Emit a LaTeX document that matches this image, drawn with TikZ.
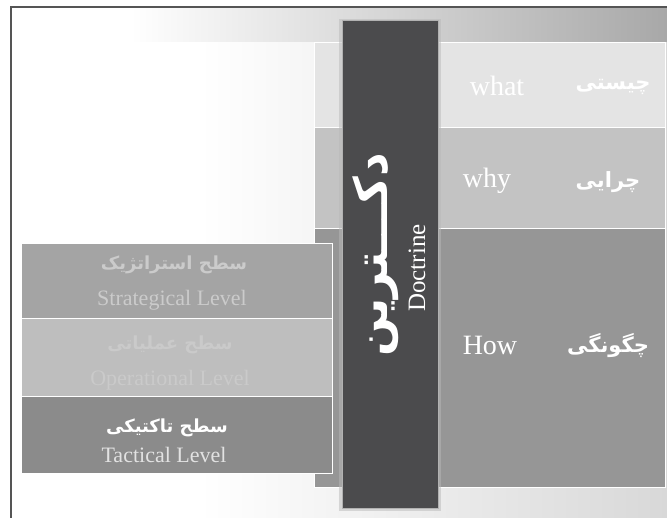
\documentclass[tikz,border=0pt]{standalone}
\usepackage{fontspec}
\setmainfont{Liberation Serif}
\newfontfamily\fa[Script=Arabic]{DejaVu Sans}
\TeXXeTstate=1
\definecolor{rowA}{HTML}{E4E4E4}
\definecolor{rowB}{HTML}{C3C3C3}
\definecolor{rowC}{HTML}{969696}
\definecolor{lvStrat}{HTML}{A4A4A4}
\definecolor{lvOper}{HTML}{BEBEBE}
\definecolor{lvTact}{HTML}{8B8B8B}
\definecolor{docCol}{HTML}{4B4B4D}
\definecolor{frameCol}{HTML}{555555}
\definecolor{bandRight}{HTML}{A8A8A8}
\definecolor{bandMid}{HTML}{C6C6C6}
\definecolor{lowRight}{HTML}{D8D8D8}
\definecolor{txtStrat}{HTML}{CBCBCB}
\definecolor{txtOper}{HTML}{CACACA}
\definecolor{txtTact}{HTML}{E2E2E2}
\begin{document}
\begin{tikzpicture}[x=1pt,y=-1pt,
  box/.style={inner sep=0pt, outer sep=0pt, anchor=north west, draw=white, line width=0.8pt},
  rlab/.style={inner sep=0pt, text=white, font=\fontsize{28}{30}\selectfont},
  rfa/.style={inner sep=0pt, text=white, font=\fa\bfseries\fontsize{21}{24}\selectfont},
  lvlab/.style={inner sep=0pt, font=\fontsize{22}{25}\selectfont},
  lvfa/.style={inner sep=0pt, font=\fa\bfseries\fontsize{18}{21}\selectfont}]
\useasboundingbox (0,0) rectangle (667,518);
% background
\fill[white] (0,0) rectangle (667,518);
\shade[left color=white, right color=lowRight] (200,7) rectangle (667,518);
\shade[left color=white, middle color=bandMid, right color=bandRight] (130,7) rectangle (667,42);
\draw[frameCol, line width=1.2pt] (11,518) -- (11,7) -- (667,7);
% right rows
\node[box, fill=rowA, minimum width=351, minimum height=85] (rowwhat) at (314,42) {};
\node[box, fill=rowB, minimum width=351, minimum height=101] (rowwhy) at (314,127) {};
\node[box, fill=rowC, minimum width=351, minimum height=259] (rowhow) at (314,228) {};
% left levels
\node[box, fill=lvStrat, minimum width=311, minimum height=75] (strat) at (21,243) {};
\node[box, fill=lvOper, minimum width=311, minimum height=78] (oper) at (21,318) {};
\node[box, fill=lvTact, minimum width=311, minimum height=77] (tact) at (21,396) {};
% doctrine column
\fill[gray!55, opacity=0.5] (339,19) rectangle (441,511);
\node[inner sep=0pt, outer sep=0pt, anchor=north west, fill=docCol, draw=gray!60, line width=0.5pt, minimum width=96, minimum height=488] (doc) at (342,20) {};
% texts right
\node[rlab] (what) at (497,86) {what};
\node[rfa] (whatfa) at (613,87) {\beginR چیستی\endR};
\node[rlab] (why) at (487,181) {why};
\node[rfa] (whyfa) at (608,182) {\beginR چرایی\endR};
\node[rlab] (how) at (490,345) {How};
\node[rfa] (howfa) at (608,346) {\beginR چگونگی\endR};
% doctrine texts
\node[inner sep=0pt, text=white, rotate=90, font=\fa\bfseries\fontsize{46}{50}\selectfont] (docfa) at (376,255) {\beginR دکـــترین\endR};
\node[inner sep=0pt, text=white, rotate=90, font=\fontsize{25}{28}\selectfont] (docen) at (417,268) {Doctrine};
% level texts
\node[lvfa, text=txtStrat] (stratfa) at (174,265) {\beginR سطح استراتژیک\endR};
\node[lvlab, text=txtStrat] (straten) at (172,300) {Strategical Level};
\node[lvfa, text=txtOper] (operfa) at (170,345) {\beginR سطح عملیاتی\endR};
\node[lvlab, text=txtOper] (operen) at (170,380) {Operational Level};
\node[lvfa, text=white] (tactfa) at (167,428) {\beginR سطح تاکتیکی\endR};
\node[lvlab, text=txtTact] (tacten) at (164,455) {Tactical Level};
\end{tikzpicture}
\end{document}
